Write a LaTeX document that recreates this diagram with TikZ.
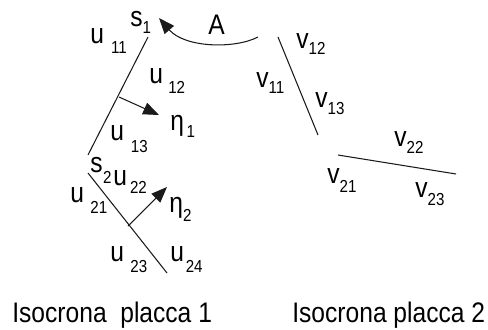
\documentclass[tikz,border=0pt]{standalone}
\usepackage{fontspec}
\setmainfont{Liberation Sans}
\usetikzlibrary{arrows.meta}
\definecolor{IsoInk}{HTML}{1A1A1A}
\definecolor{IsoText}{HTML}{000000}
\newcommand{\stretchy}[1]{\scalebox{1}[1.15]{#1}}
\newcommand{\isolbl}[4]{\stretchy{#1\kern#3\raisebox{-#4}{\fontsize{8.6}{9}\selectfont #2}}}

\begin{document}
\begin{tikzpicture}[x=0.02cm,y=-0.02cm,
  isoline/.style={IsoInk,line width=0.6pt},
  normarrow/.style={IsoInk,line width=0.6pt,-{Triangle[length=9pt,width=7pt]}},
  isotag/.style={anchor=base west,inner sep=0pt,text=IsoText,font=\fontsize{14}{15}\selectfont}]
\path[use as bounding box] (0,0) rectangle (488,329);
% plate 1
\coordinate (p1a) at (148,37);
\coordinate (p1b) at (88,155);
\coordinate (p2a) at (88,173);
\coordinate (p2b) at (167,273);
\coordinate (n1s) at (119,97);
\coordinate (n1e) at (159,115);
\coordinate (n2s) at (128,226);
\coordinate (n2e) at (167,187);
\draw[isoline] (p1a) -- (p1b);
\draw[isoline] (p2a) -- (p2b);
\draw[normarrow] (n1s) -- (n1e);
\draw[normarrow] (n2s) -- (n2e);
% plate 2
\coordinate (q1a) at (278,37);
\coordinate (q1b) at (318,135);
\coordinate (q2a) at (338,155);
\coordinate (q2b) at (456,174);
\draw[isoline] (q1a) -- (q1b);
\draw[isoline] (q2a) -- (q2b);
% transfer arc
\coordinate (arcS) at (258,37);
\coordinate (arcE) at (159,18);
\draw[normarrow] (arcS) .. controls (235,49) and (185,48) .. (arcE);
\node[isotag] (lblA) at (208,34) {\stretchy{A}};
% labels plate 1
\node[isotag] (s1) at (130,26) {\isolbl{s}{1}{0pt}{3.6pt}};
\node[isotag] (u11) at (90,43) {\isolbl{u}{11}{4pt}{5.4pt}};
\node[isotag] (u12) at (149,83) {\isolbl{u}{12}{3pt}{5.3pt}};
\node[isotag] (eta1) at (170,130) {\isolbl{η}{1}{1.5pt}{3.6pt}};
\node[isotag] (u13) at (110,140) {\isolbl{u}{13}{3.9pt}{6.3pt}};
\node[isotag] (s2) at (90,172) {\isolbl{s}{2}{0.3pt}{5.9pt}};
\node[isotag] (u22) at (113,185) {\isolbl{u}{22}{1.7pt}{4.1pt}};
\node[isotag] (u21) at (70,202) {\isolbl{u}{21}{3.6pt}{5.8pt}};
\node[isotag] (eta2) at (169,212) {\isolbl{η}{2}{0pt}{4.9pt}};
\node[isotag] (u23) at (110,261) {\isolbl{u}{23}{3.6pt}{5.9pt}};
\node[isotag] (u24) at (170,261) {\isolbl{u}{24}{1pt}{5.9pt}};
% labels plate 2
\node[isotag] (v12) at (296,48) {\isolbl{v}{12}{0pt}{3.0pt}};
\node[isotag] (v11) at (256,87) {\isolbl{v}{11}{0pt}{3.3pt}};
\node[isotag] (v13) at (315,107) {\isolbl{v}{13}{0pt}{3.6pt}};
\node[isotag] (v22) at (394,146) {\isolbl{v}{22}{0pt}{3.6pt}};
\node[isotag] (v21) at (327,183) {\isolbl{v}{21}{0pt}{4.9pt}};
\node[isotag] (v23) at (415,197) {\isolbl{v}{23}{0pt}{4.1pt}};
% captions
\node[isotag] (cap1) at (12,322) {\stretchy{Isocrona\ \ placca 1}};
\node[isotag] (cap2) at (292,322) {\stretchy{Isocrona placca 2}};
\end{tikzpicture}
\end{document}
